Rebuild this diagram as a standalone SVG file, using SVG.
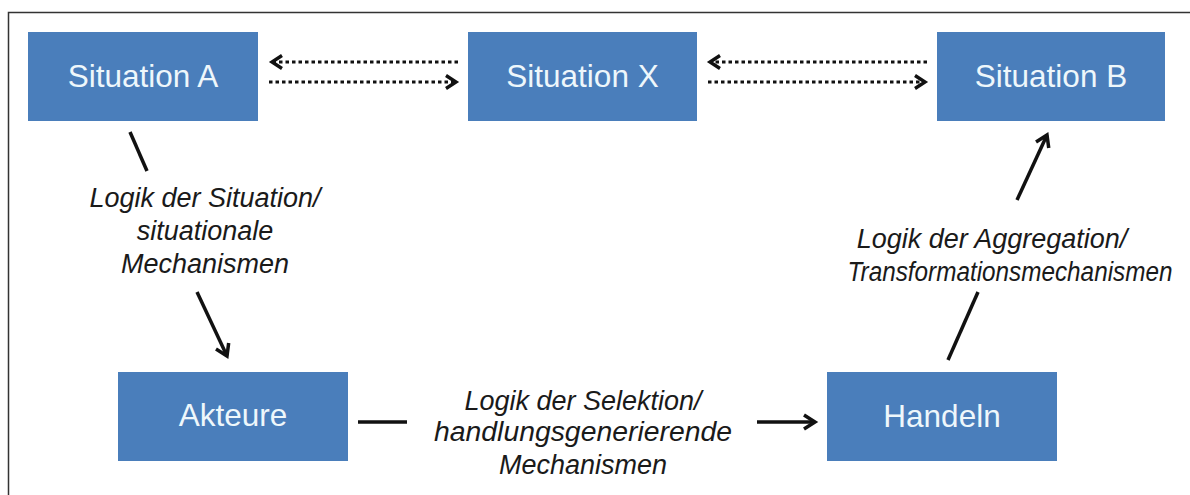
<svg xmlns="http://www.w3.org/2000/svg" width="1190" height="495" viewBox="0 0 1190 495">
  <defs>
    <style>
      .box { fill: #4a7ebb; }
      .label { font-family: "Liberation Sans", Arial, sans-serif; font-size: 31.5px; fill: #eef7fb; text-anchor: middle; }
      .note { font-family: "Liberation Sans", Arial, sans-serif; font-size: 27px; font-style: italic; fill: #1a1a1a; text-anchor: middle; }
      .dotted { fill: none; stroke: #111; stroke-width: 3; stroke-dasharray: 3.5 3; }
      .solid { fill: none; stroke: #111; stroke-width: 3.5; }
    </style>
    <marker id="chev" markerUnits="userSpaceOnUse" markerWidth="20" markerHeight="20" viewBox="-14 -10 20 20" refX="0" refY="0" orient="auto-start-reverse">
      <path d="M-10,-6.5 L0,0 L-10,6.5" fill="none" stroke="#111" stroke-width="3.4"/>
    </marker>
    <marker id="head" markerUnits="userSpaceOnUse" markerWidth="22" markerHeight="22" viewBox="-16 -11 22 22" refX="0" refY="0" orient="auto">
      <path d="M-11,-7 L0,0 L-11,7" fill="none" stroke="#111" stroke-width="3.5"/>
    </marker>
  </defs>

  <rect x="8.5" y="12.5" width="1200" height="500" fill="#ffffff" stroke="#333" stroke-width="1.5"/>

  <g id="connectors">
    <!-- dotted links in the top row -->
    <path class="dotted" d="M458,62 H272" marker-end="url(#chev)"/>
    <path class="dotted" d="M269,82 H456" marker-end="url(#chev)"/>
    <path class="dotted" d="M927,62 H710" marker-end="url(#chev)"/>
    <path class="dotted" d="M708,82 H925" marker-end="url(#chev)"/>
    <!-- Situation A to Akteure -->
    <path class="solid" d="M130,132 L147,171"/>
    <path class="solid" d="M197,292 L227,356" marker-end="url(#head)"/>
    <!-- Akteure to Handeln -->
    <path class="solid" d="M358,422 H407"/>
    <path class="solid" d="M757,422 H815" marker-end="url(#head)"/>
    <!-- Handeln to Situation B -->
    <path class="solid" d="M948,360 L978,292"/>
    <path class="solid" d="M1017,200 L1047,135" marker-end="url(#head)"/>
  </g>

  <g id="situation-a">
    <rect class="box" x="28" y="32" width="230" height="89"/>
    <text class="label" x="143" y="87">Situation A</text>
  </g>
  <g id="situation-x">
    <rect class="box" x="468" y="32" width="229" height="89"/>
    <text class="label" x="582.5" y="87">Situation X</text>
  </g>
  <g id="situation-b">
    <rect class="box" x="937" y="32" width="228" height="89"/>
    <text class="label" x="1051" y="87">Situation B</text>
  </g>
  <g id="akteure">
    <rect class="box" x="118" y="372" width="230" height="89"/>
    <text class="label" x="233" y="426">Akteure</text>
  </g>
  <g id="handeln">
    <rect class="box" x="827" y="372" width="230" height="89"/>
    <text class="label" x="942" y="427">Handeln</text>
  </g>

  <g id="labels">
    <text class="note" x="205" y="207">Logik der Situation/</text>
    <text class="note" x="205" y="240">situationale</text>
    <text class="note" x="205" y="273">Mechanismen</text>

    <text class="note" x="992" y="248">Logik der Aggregation/</text>
    <!-- long word set a little condensed so it stays inside the frame -->
    <text class="note" transform="translate(1010,281) scale(0.9,1)">Transformationsmechanismen</text>

    <text class="note" x="583" y="410">Logik der Selektion/</text>
    <text class="note" x="583" y="441" textLength="298" lengthAdjust="spacingAndGlyphs">handlungsgenerierende</text>
    <text class="note" x="583" y="474">Mechanismen</text>
  </g>
</svg>
